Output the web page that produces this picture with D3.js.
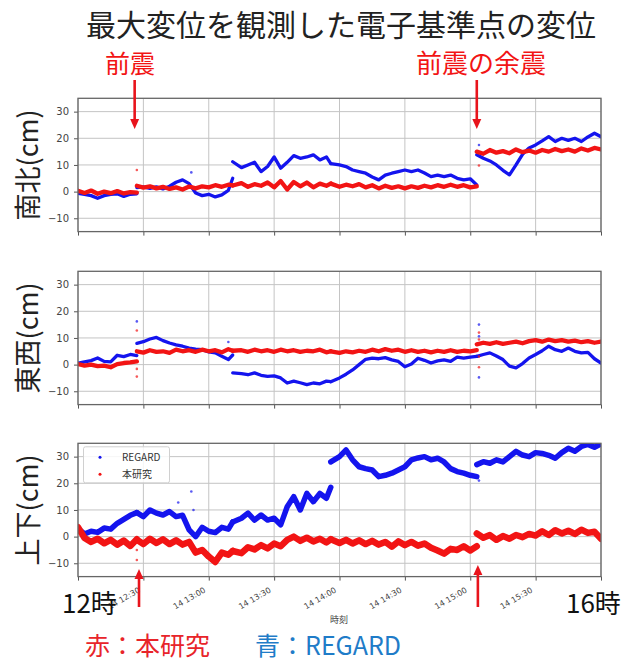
<!DOCTYPE html>
<html>
<head>
<meta charset="utf-8">
<script src="https://cdn.jsdelivr.net/npm/d3@7"></script>
<style>
	body { margin: 0; background: #fff; }
	svg { display: block; font-family: "Noto Sans CJK JP", "Noto Sans", sans-serif; }
</style>
</head>
<body>
<div id="chart"></div>
<script>
// sample times, minutes after 12:00 on the 14th; each inner list is one unbroken stretch
const TIME_SEGS = [
	[0, 3, 6, 9, 12, 15, 18, 21, 24, 27],
	[27, 30, 33, 36, 39, 42, 45, 48, 51, 54, 57, 60, 63, 66, 69, 71],
	[71, 75, 78, 81, 84, 87, 90, 93, 96, 99, 102, 105, 108, 111, 114, 116],
	[116, 120, 123, 126, 129, 132, 135, 138, 141, 144, 147, 150, 153, 156, 159, 162, 165, 168, 171, 174, 177, 180, 183],
	[183, 186, 189, 192, 195, 198, 201, 204, 207, 210, 213, 216, 219, 222, 225, 228, 231, 234, 237, 240]
];

// 南北 (cm)
const NS_REGARD = [
	[-0.6, -1.0, -1.5, -2.5, -1.5, -1.0, -0.8, -1.8, -1.0, -0.8],
	[1.5, 1.8, 1.2, 1.8, 1.0, 2.0, 3.5, 4.4, 3.0, -0.5, -1.5, -1.0, -2.0, -1.2, 0.5, 5.0],
	[11.2, 9.0, 10.0, 11.0, 7.5, 9.4, 13.0, 8.8, 11.0, 13.5, 12.5, 13.0, 13.8, 11.9, 13.0, 10.5],
	[10.5, 10.0, 9.4, 8.1, 7.5, 6.9, 5.5, 4.4, 6.2, 6.9, 7.5, 8.1, 7.5, 8.1, 7.0, 5.6, 6.2, 5.6, 6.2, 5.0, 4.4, 4.8, 2.5],
	[13.8, 12.5, 11.5, 10.0, 8.0, 6.3, 10.0, 14.0, 16.4, 17.5, 19.0, 20.6, 18.8, 20.0, 19.2, 20.0, 18.8, 20.5, 21.9, 20.6]
];
const NS_OURS = [
	[0.3, -0.5, 0.4, -0.8, 0.0, -0.6, 0.2, -0.7, -0.2, -0.4],
	[2.2, 1.5, 2.0, 1.2, 1.8, 1.0, 1.6, 0.8, 1.9, 1.2, 2.0, 1.6, 2.4, 1.8, 2.6, 2.3],
	[2.3, 3.2, 1.8, 2.8, 2.2, 3.4, 1.6, 4.0, 0.8, 3.6, 2.0, 3.4, 1.6, 3.0, 2.2, 3.0],
	[3.0, 1.8, 2.6, 2.0, 2.8, 1.6, 2.4, 1.2, 2.2, 1.4, 2.0, 1.2, 2.0, 1.4, 2.2, 1.6, 2.4, 1.8, 2.6, 1.8, 2.4, 1.6, 2.0],
	[15.0, 14.2, 15.6, 14.6, 15.2, 14.4, 15.8, 14.8, 15.4, 14.6, 15.6, 15.0, 16.0, 15.2, 15.8, 15.0, 16.2, 15.4, 16.4, 15.8]
];

// 東西 (cm)
const EW_REGARD = [
	[0.5, 1.0, 1.5, 2.5, 1.2, 1.0, 3.5, 3.0, 3.8, 3.4],
	[8.0, 8.6, 9.6, 10.2, 9.0, 8.1, 7.4, 6.9, 6.2, 5.8, 5.6, 4.8, 4.4, 3.1, 1.9, 3.6],
	[-3.1, -3.4, -3.8, -3.1, -4.0, -4.4, -4.2, -5.0, -6.9, -6.2, -6.8, -7.5, -6.9, -7.2, -6.2, -6.4],
	[-6.4, -5.0, -3.6, -2.0, 0.0, 2.0, 2.4, 2.2, 2.6, 1.8, 1.2, -0.8, 0.2, 2.4, 1.6, 0.6, 1.4, 1.8, 1.2, 2.8, 2.4, 2.8, 3.1],
	[3.1, 3.8, 4.4, 3.2, 1.9, -0.6, -1.2, 0.4, 2.5, 3.8, 5.2, 6.9, 5.6, 5.0, 6.2, 5.0, 4.4, 4.6, 2.2, 0.6]
];
const EW_OURS = [
	[0.2, -0.4, 0.0, -0.6, -0.4, -1.0, 0.2, 0.6, 0.8, 1.2],
	[5.0, 4.5, 5.4, 4.8, 5.0, 4.4, 5.6, 5.0, 5.4, 4.8, 5.6, 5.0, 5.4, 4.6, 5.8, 5.2],
	[5.2, 5.4, 4.8, 5.6, 5.0, 5.4, 4.8, 5.6, 5.0, 5.4, 4.8, 5.2, 5.0, 5.6, 4.6, 5.0],
	[5.0, 4.4, 5.0, 4.6, 5.2, 4.8, 5.6, 5.0, 5.8, 5.2, 5.6, 4.8, 5.4, 4.8, 5.2, 4.6, 5.2, 4.8, 5.4, 4.8, 5.2, 5.0, 5.4],
	[7.6, 8.2, 7.8, 8.4, 7.8, 8.2, 8.6, 8.0, 8.8, 9.2, 8.6, 9.4, 8.8, 9.2, 8.6, 9.0, 8.4, 8.8, 8.2, 8.6]
];

// 上下 (cm)
const UD_REGARD = [
	[3.0, 1.0, 2.0, 1.6, 3.2, 2.8, 5.0, 6.5, 8.0, 9.0],
	[9.0, 7.5, 10.0, 8.8, 8.1, 9.4, 7.5, 8.0, 2.5, 0.0, 3.5, 2.0, 1.5, 3.5, 2.8, 5.5],
	[5.5, 6.9, 8.8, 6.2, 8.1, 6.2, 6.9, 4.4, 11.2, 15.0, 10.0, 16.2, 13.1, 16.2, 14.4, 18.5],
	[28.0, 30.0, 32.5, 28.8, 26.2, 25.5, 25.0, 22.5, 23.0, 23.8, 25.0, 26.2, 28.8, 29.5, 30.0, 28.8, 29.4, 28.0, 25.5, 24.4, 23.8, 23.0, 22.5],
	[27.0, 28.1, 27.5, 28.8, 28.0, 30.0, 32.0, 30.6, 30.0, 31.5, 31.2, 30.5, 29.4, 31.5, 33.1, 32.0, 33.8, 34.6, 33.5, 34.8]
];
const UD_OURS = [
	[3.5, -0.5, -2.0, -0.8, -2.5, -1.2, -3.0, -1.5, -3.5, -1.0],
	[-1.2, -2.8, -0.8, -2.4, -1.0, -2.8, -1.4, -3.0, -2.0, -6.0, -5.0, -7.5, -9.5, -6.0, -6.8, -5.4],
	[-5.4, -6.2, -4.0, -4.8, -3.2, -4.4, -2.6, -3.6, -1.2, 0.0, -1.6, -0.4, -1.8, -0.8, -2.2, -1.0],
	[-1.0, -2.4, -1.2, -2.6, -1.4, -2.8, -1.6, -3.0, -2.0, -3.8, -1.8, -3.2, -2.0, -3.4, -2.6, -4.2, -5.2, -6.4, -4.6, -5.0, -3.6, -5.2, -3.6],
	[1.2, -0.4, 0.6, -1.2, 0.2, -0.8, 0.6, -0.2, 1.0, 0.4, 2.0, 0.6, 2.4, 1.2, 2.2, 1.0, 2.6, 1.4, 1.8, -0.8]
];

// stray single samples [minute, cm]
const NS_REGARD_STRAY = [[52, 7.2], [184, 17.5]];
const NS_OURS_STRAY = [[27, 8.1], [184, 9.8]];
const EW_REGARD_STRAY = [[27, 16.2], [69, 8.5], [184, 15.0], [184, 10.6], [184, -4.8]];
const EW_OURS_STRAY = [[27, 12.8], [27, -1.6], [27, -4.5], [184, 12.0], [184, 9.4], [184, 3.0], [184, -1.0]];
const UD_REGARD_STRAY = [[46, 12.8], [52, 16.9], [53, 10.0], [184, 21.0]];
const UD_OURS_STRAY = [[27, -8.8], [27, -5.0]];

const PANEL_LABELS = ["南北(cm)", "東西(cm)", "上下(cm)"];
const Y_DOMAIN = [-15, 35];
const Y_TICKS = [-10, 0, 10, 20, 30];
const LEGEND_LABELS = ["REGARD", "本研究"];
const EVENT_LABELS = ["前震", "前震の余震"];
const ARROW_TOP_MIN = [26, 183];
const ARROW_BOTTOM_MIN = [28, 183.5];

var BLUE = "#1414ee",
	RED = "#f21414";

var width = 622,
	height = 663,
	plot = { left: 78, right: 601, height: 133.3 },
	panelTops = [98.3, 271.3, 443.3];

var base = new Date(2016, 3, 14, 12, 0);
function toDate(m) {
	return new Date(base.getTime() + m * 60000);
}

var x = d3.scaleTime().domain([toDate(0), toDate(240)]).range([plot.left, plot.right]);
var y = d3.scaleLinear().domain(Y_DOMAIN).range([plot.height, 0]);
var halfHours = d3.timeMinute.every(30).range(toDate(0), toDate(241));

var svg = d3
	.select("#chart")
	.append("svg")
	.attr("width", width)
	.attr("height", height);

svg
	.append("defs")
	.append("clipPath")
	.attr("id", "plotclip")
	.append("rect")
	.attr("x", plot.left)
	.attr("y", 0)
	.attr("width", plot.right - plot.left)
	.attr("height", plot.height);

var line = d3
	.line()
	.x(function (d) { return x(d.date); })
	.y(function (d) { return y(d.v); });

function drawSeries(g, series, stray, color, lw) {
	series.forEach(function (seg, k) {
		var pts = TIME_SEGS[k].map(function (t, i) {
			return { date: toDate(t), v: seg[i] };
		});
		g.append("path")
			.datum(pts)
			.attr("d", line)
			.attr("fill", "none")
			.attr("stroke", color)
			.attr("stroke-width", lw)
			.attr("stroke-linejoin", "round")
			.attr("stroke-linecap", "round");
	});
	g.selectAll(null)
		.data(stray)
		.enter()
		.append("circle")
		.attr("cx", function (d) { return x(toDate(d[0])); })
		.attr("cy", function (d) { return y(d[1]); })
		.attr("r", 1.3)
		.attr("fill", color)
		.attr("opacity", 0.7);
}

var panels = [
	{ blue: NS_REGARD, red: NS_OURS, bs: NS_REGARD_STRAY, rs: NS_OURS_STRAY, lw: 4.3 },
	{ blue: EW_REGARD, red: EW_OURS, bs: EW_REGARD_STRAY, rs: EW_OURS_STRAY, lw: 4.3 },
	{ blue: UD_REGARD, red: UD_OURS, bs: UD_REGARD_STRAY, rs: UD_OURS_STRAY, lw: 6.5 }
];

panels.forEach(function (p, idx) {
	var g = svg.append("g").attr("transform", "translate(0," + panelTops[idx] + ")");

	// grid
	g.selectAll(null)
		.data(halfHours)
		.enter()
		.append("line")
		.attr("x1", function (d) { return x(d); })
		.attr("x2", function (d) { return x(d); })
		.attr("y1", 0)
		.attr("y2", plot.height)
		.attr("stroke", "#c4c4c4")
		.attr("stroke-width", 1);
	g.selectAll(null)
		.data(Y_TICKS)
		.enter()
		.append("line")
		.attr("x1", plot.left)
		.attr("x2", plot.right)
		.attr("y1", function (d) { return y(d); })
		.attr("y2", function (d) { return y(d); })
		.attr("stroke", "#c4c4c4")
		.attr("stroke-width", 1);

	var data = g.append("g").attr("clip-path", "url(#plotclip)");
	drawSeries(data, p.blue, p.bs, BLUE, p.lw - 1);
	drawSeries(data, p.red, p.rs, RED, p.lw);

	// y axis
	var ya = g
		.append("g")
		.attr("transform", "translate(" + plot.left + ",0)")
		.call(d3.axisLeft(y).tickValues(Y_TICKS).tickSize(4).tickPadding(5));
	ya.select(".domain").remove();
	ya.selectAll("line").attr("stroke", "#555");
	ya.selectAll("text").attr("fill", "#444").style("font-size", "10px").style("font-family", "DejaVu Sans, sans-serif");

	// x axis
	var fmt = d3.timeFormat("%d %H:%M");
	var xa = g
		.append("g")
		.attr("transform", "translate(0," + plot.height + ")")
		.call(
			d3
				.axisBottom(x)
				.tickValues(halfHours)
				.tickSize(4)
				.tickFormat(function (d, i) {
					if (idx < 2 || i === 0 || i === halfHours.length - 1) return "";
					return fmt(d);
				})
		);
	xa.select(".domain").remove();
	xa.selectAll("line").attr("stroke", "#555");
	xa.selectAll("text")
		.attr("fill", "#444")
		.style("font-size", "8px")
		.style("font-family", "DejaVu Sans, sans-serif")
		.attr("text-anchor", "end")
		.attr("x", -3)
		.attr("y", 15)
		.attr("dy", null)
		.attr("transform", "rotate(-30,-3,15)");

	// frame
	g.append("rect")
		.attr("x", plot.left)
		.attr("y", 0)
		.attr("width", plot.right - plot.left)
		.attr("height", plot.height)
		.attr("fill", "none")
		.attr("stroke", "#666")
		.attr("stroke-width", 1.3);

	// panel label
	g.append("text")
		.attr("transform", "translate(38," + plot.height / 2 + ") rotate(-90)")
		.attr("text-anchor", "middle")
		.attr("fill", "#222")
		.style("font-size", "27px")
		.text(PANEL_LABELS[idx]);

	if (idx === 2) {
		var lg = g.append("g");
		lg.append("rect")
			.attr("x", 83.5)
			.attr("y", 3.5)
			.attr("width", 86)
			.attr("height", 36)
			.attr("rx", 2)
			.attr("fill", "#fff")
			.attr("fill-opacity", 0.85)
			.attr("stroke", "#d0d0d0");
		[BLUE, RED].forEach(function (c, i) {
			lg.append("circle").attr("cx", 100).attr("cy", 14 + i * 17).attr("r", 1.5).attr("fill", c);
			lg.append("text")
				.attr("x", 122)
				.attr("y", 17.5 + i * 17)
				.attr("fill", "#333")
				.style("font-size", "10px")
				.text(LEGEND_LABELS[i]);
		});
	}
});

// title and event labels
svg.append("text")
	.attr("x", 341)
	.attr("y", 36)
	.attr("text-anchor", "middle")
	.attr("fill", "#222")
	.style("font-size", "30px")
	.text("最大変位を観測した電子基準点の変位");

svg.append("text").attr("x", 130).attr("y", 73).attr("text-anchor", "middle")
	.attr("fill", RED).style("font-size", "25px").text(EVENT_LABELS[0]);
svg.append("text").attr("x", 481).attr("y", 73).attr("text-anchor", "middle")
	.attr("fill", RED).style("font-size", "26px").text(EVENT_LABELS[1]);

function arrow(xp, yFrom, yTip) {
	var dir = yTip > yFrom ? 1 : -1;
	svg.append("line")
		.attr("x1", xp).attr("x2", xp)
		.attr("y1", yFrom).attr("y2", yTip - dir * 8)
		.attr("stroke", "#e8141c")
		.attr("stroke-width", 2.6);
	svg.append("path")
		.attr("d", "M" + (xp - 4.5) + "," + (yTip - dir * 10) + "L" + (xp + 4.5) + "," + (yTip - dir * 10) + "L" + xp + "," + yTip + "Z")
		.attr("fill", "#e8141c");
}
ARROW_TOP_MIN.forEach(function (m) {
	arrow(x(toDate(m)), 80, 129);
});
ARROW_BOTTOM_MIN.forEach(function (m, i) {
	arrow(x(toDate(m)), 607, i === 0 ? 569 : 565);
});

// hour marks
svg.append("text").attr("x", 62).attr("y", 613).attr("fill", "#111")
	.style("font-size", "26px").text("12時");
svg.append("text").attr("x", 566).attr("y", 613).attr("fill", "#111")
	.style("font-size", "26px").text("16時");
svg.append("text").attr("x", 339).attr("y", 623).attr("text-anchor", "middle")
	.attr("fill", "#444").style("font-size", "9px").text("時刻");

// colour key
var key = svg.append("text").attr("x", 85).attr("y", 655).style("font-size", "25px");
key.append("tspan").attr("fill", "#e8242a").text("赤：本研究");
key.append("tspan").attr("x", 255).attr("fill", "#1f7cc8").text("青：REGARD");
</script>
</body>
</html>
